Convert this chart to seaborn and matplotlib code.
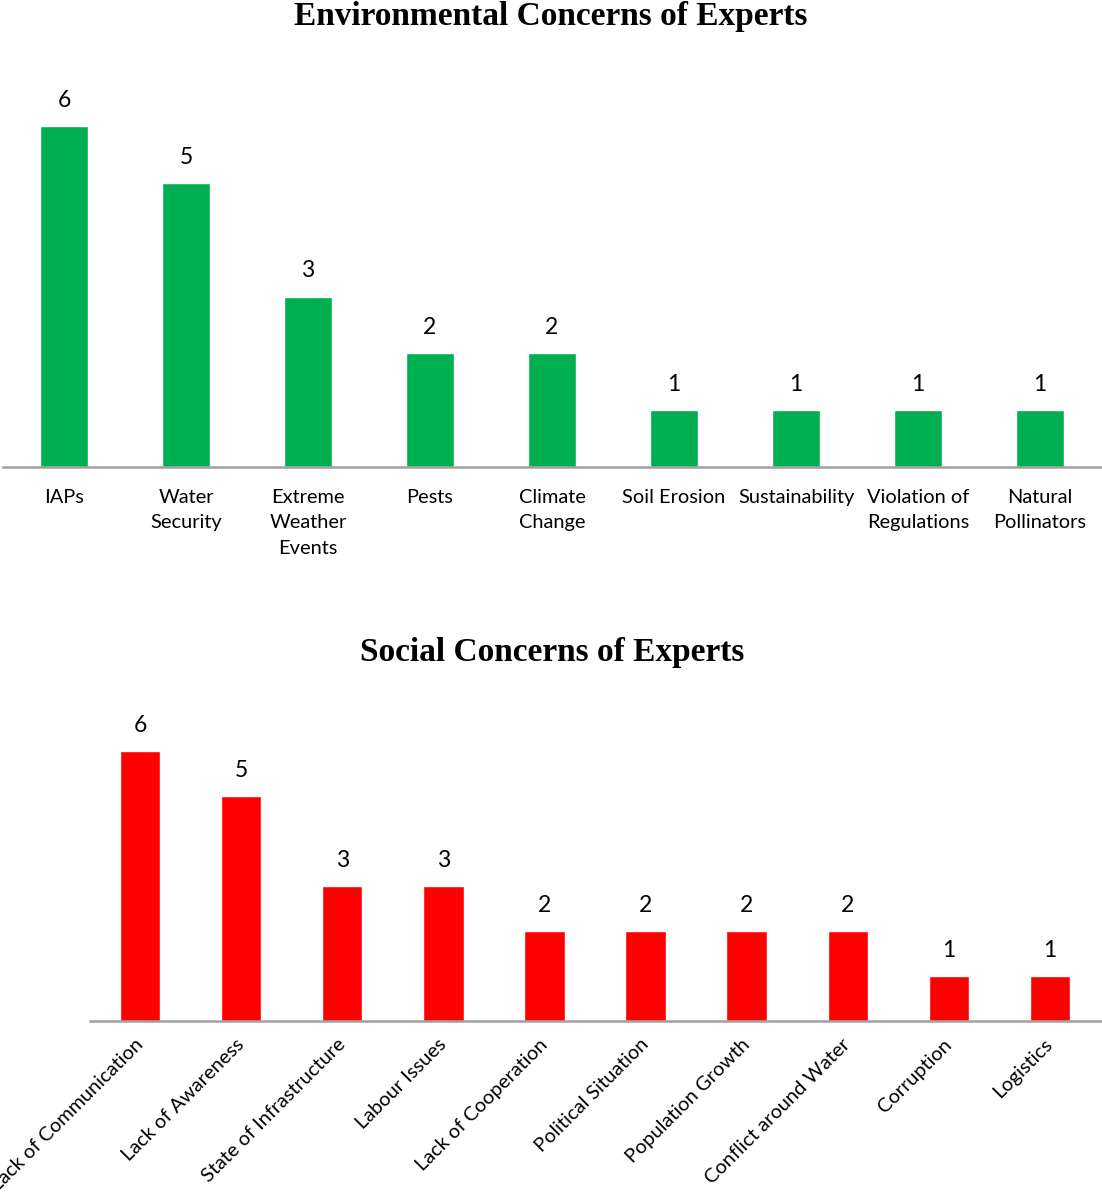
import matplotlib
matplotlib.use("Agg")
import matplotlib.pyplot as plt
import seaborn as sns
import pandas as pd

env_categories = ["IAPs", "Water\nSecurity", "Extreme\nWeather\nEvents", "Pests", "Climate\nChange",
                  "Soil Erosion", "Sustainability", "Violation of\nRegulations", "Natural\nPollinators"]
env_values = [6, 5, 3, 2, 2, 1, 1, 1, 1]

soc_categories = ["Lack of Communication", "Lack of Awareness", "State of Infrastructure", "Labour Issues",
                  "Lack of Cooperation", "Political Situation", "Population Growth",
                  "Conflict around Water", "Corruption", "Logistics"]
soc_values = [6, 5, 3, 3, 2, 2, 2, 2, 1, 1]

sns.set_theme(style="white")
plt.rcParams['font.family'] = ['Lato', 'DejaVu Sans']
plt.rcParams['text.color'] = 'black'
plt.rcParams['xtick.color'] = 'black'

W, H = 1102, 1194
fig = plt.figure(figsize=(W / 100, H / 100), dpi=100)

label_font = 14.4
value_font = 16.5
axis_color = "#a0a0a0"


def make_axes(left_px, right_px, top_px, bottom_px):
    return fig.add_axes([left_px / W, 1 - bottom_px / H, (right_px - left_px) / W, (bottom_px - top_px) / H])


def style(ax):
    for s in ["top", "right", "left"]:
        ax.spines[s].set_visible(False)
    ax.spines["bottom"].set_color(axis_color)
    ax.spines["bottom"].set_linewidth(1.8)
    ax.set_yticks([])
    ax.set_xlabel("")
    ax.set_ylabel("")
    ax.tick_params(axis="x", length=0, colors="black")
    ax.set_ylim(0, 7)


# Top chart
ax1 = make_axes(3, 1101, 69.4, 467)
df1 = pd.DataFrame({"cat": env_categories, "val": env_values})
sns.barplot(data=df1, x="cat", y="val", color="#00B050", saturation=1, width=0.4, ax=ax1)
style(ax1)
ax1.set_xlim(-0.5, len(env_categories) - 0.5)
ax1.tick_params(axis="x", pad=15.5, labelsize=label_font)
for t in ax1.get_xticklabels():
    t.set_linespacing(1.62)
    t.set_va("top")
ax1.bar_label(ax1.containers[0], padding=11, fontsize=value_font, color="black")
fig.text(551 / W, 1 - 16 / H, "Environmental Concerns of Experts", ha="center", va="center",
         fontsize=24, fontweight="bold", color="black", family=["Liberation Serif", "DejaVu Serif"])

# Bottom chart
ax2 = make_axes(89.5, 1100.5, 706, 1021)
df2 = pd.DataFrame({"cat": soc_categories, "val": soc_values})
sns.barplot(data=df2, x="cat", y="val", color="#FF0000", saturation=1, width=0.4, ax=ax2)
style(ax2)
ax2.set_xlim(-0.5, len(soc_categories) - 0.5)
ax2.tick_params(axis="x", pad=15, labelsize=label_font)
for t in ax2.get_xticklabels():
    t.set_rotation(45)
    t.set_ha("right")
    t.set_va("center")
    t.set_rotation_mode("anchor")
ax2.bar_label(ax2.containers[0], padding=11, fontsize=value_font, color="black")
fig.text(552 / W, 1 - 652 / H, "Social Concerns of Experts", ha="center", va="center",
         fontsize=24, fontweight="bold", color="black", family=["Liberation Serif", "DejaVu Serif"])

fig.savefig("out.png", dpi=100)
